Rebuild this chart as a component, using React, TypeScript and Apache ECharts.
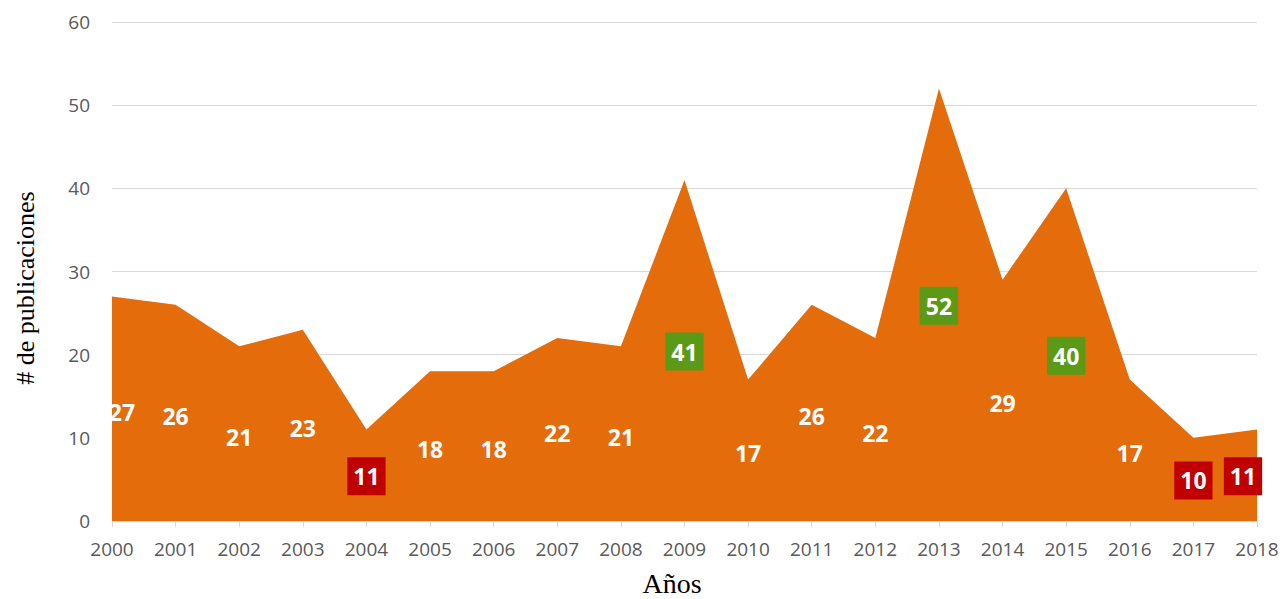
import React, { useEffect, useRef } from "react";
import * as echarts from "echarts";

const years = ["2000","2001","2002","2003","2004","2005","2006","2007","2008","2009","2010","2011","2012","2013","2014","2015","2016","2017","2018"];
const publications = [27, 26, 21, 23, 11, 18, 18, 22, 21, 41, 17, 26, 22, 52, 29, 40, 17, 10, 11];
const highYears = ["2009", "2013", "2015"];
const lowYears = ["2004", "2017", "2018"];
const yTicks = { min: 0, max: 60, interval: 10 };

const ORANGE = "#E46C0A";
const GREEN = "#5A9A17";
const RED = "#C00000";

export default function App() {
  const ref = useRef<HTMLDivElement>(null);
  useEffect(() => {
    if (!ref.current) return;
    const chart = echarts.init(ref.current, undefined, { renderer: "svg" });
    const labelData = publications.map((v, i) => {
      const y = years[i];
      const isHigh = highYears.includes(y);
      const isLow = lowYears.includes(y);
      const boxed = isHigh || isLow;
      let dx = 0;
      if (i === 0) dx = 10;
      if (i === years.length - 1) dx = -14;
      return {
        value: [i, v / 2, v],
        label: {
          offset: [dx, boxed ? 1 : 3],
          backgroundColor: isHigh ? GREEN : isLow ? RED : "transparent",
          padding: boxed ? [8, 6, 7, 6] : 0,
        },
      };
    });
    chart.setOption({
      animation: false,
      grid: { left: 112, right: 30, top: 22, bottom: 78 },
      xAxis: {
        type: "category",
        data: years,
        boundaryGap: false,
        axisLine: { lineStyle: { color: "#d9d9d9", width: 1 } },
        axisTick: { show: true, length: 6, lineStyle: { color: "#d9d9d9" } },
        axisLabel: { color: "#595959", fontFamily: "Open Sans", fontSize: 19, margin: 18 },
        splitLine: { show: false },
      },
      yAxis: {
        type: "value",
        min: yTicks.min,
        max: yTicks.max,
        interval: yTicks.interval,
        axisLine: { show: false },
        axisTick: { show: false },
        axisLabel: { color: "#595959", fontFamily: "Open Sans", fontSize: 19, margin: 22 },
        splitLine: { lineStyle: { color: "#d9d9d9", width: 1 } },
      },
      series: [
        {
          type: "line",
          data: publications,
          symbol: "none",
          lineStyle: { width: 0, color: ORANGE },
          areaStyle: { color: ORANGE, opacity: 1 },
          silent: true,
          z: 1,
        },
        {
          type: "scatter",
          data: labelData,
          symbolSize: 0,
          silent: true,
          itemStyle: { opacity: 1 },
          z: 5,
          label: {
            show: true,
            position: "inside",
            color: "#ffffff",
            opacity: 1,
            fontFamily: "Open Sans",
            fontWeight: "bold",
            fontSize: 23,
            formatter: (p: any) => String(p.value[2]),
          },
        },
      ],
      graphic: [
        {
          type: "text",
          x: 672,
          y: 583,
          style: {
            text: "Años",
            fontFamily: "Liberation Serif",
            fontSize: 28,
            lineHeight: 28,
            fill: "#000000",
            textAlign: "center",
            textVerticalAlign: "middle",
          },
        },
        {
          type: "text",
          x: 25,
          y: 288,
          rotation: Math.PI / 2,
          style: {
            text: "# de publicaciones",
            fontFamily: "Liberation Serif",
            fontSize: 26,
            fill: "#000000",
            textAlign: "center",
            textVerticalAlign: "middle",
          },
        },
      ],
    });
    return () => chart.dispose();
  }, []);
  return <div ref={ref} style={{ width: 1287, height: 599, position: "absolute", left: 0, top: 0 }} />;
}
